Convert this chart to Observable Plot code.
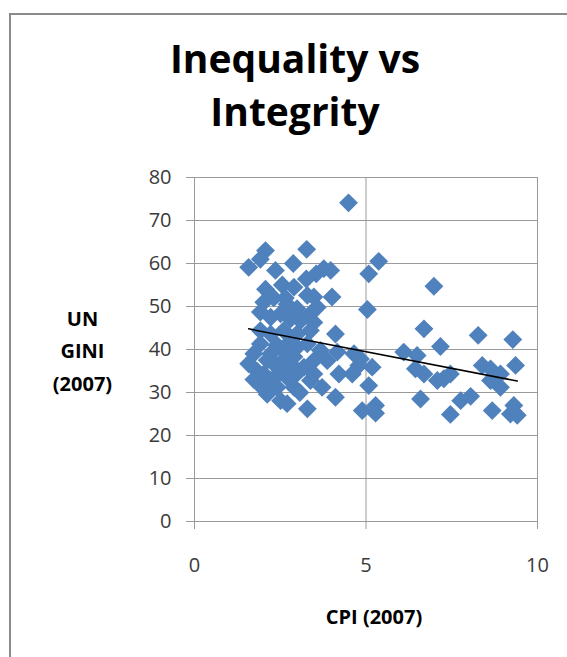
<!DOCTYPE html>
<html>
<head>
<meta charset="utf-8">
<script src="https://cdn.jsdelivr.net/npm/d3@7"></script>
<script src="https://cdn.jsdelivr.net/npm/@observablehq/plot@0.6"></script>
<style>
  html, body { margin: 0; padding: 0; background: #fff; }
  #wrap { position: relative; width: 567px; height: 657px; overflow: hidden; background: #fff; font-family: "Open Sans", sans-serif; }
  #frame { position: absolute; left: 9px; top: 13px; width: 700px; height: 800px; border-left: 2px solid #8a8a8a; border-top: 2px solid #8a8a8a; }
  #title { position: absolute; left: 0; top: 31px; width: 590px; text-align: center; font-weight: 700; font-size: 39px; line-height: 53px; color: #000; }
  #ylab { position: absolute; left: 32px; top: 302.5px; width: 101px; text-align: center; font-weight: 700; font-size: 20px; line-height: 32.5px; color: #000; }
  #xlab { position: absolute; left: 274px; top: 602px; width: 200px; text-align: center; font-weight: 700; font-size: 20px; line-height: 30px; color: #000; }
  #chart { position: absolute; left: 0; top: 0; }
</style>
</head>
<body>
<div id="wrap">
  <div id="frame"></div>
  <div id="chart"></div>
  <div id="title">Inequality vs<br>Integrity</div>
  <div id="ylab">UN<br>GINI<br>(2007)</div>
  <div id="xlab">CPI (2007)</div>
</div>
<script>
// CPI 2007 (x) and UN GINI 2007 (y)
const cpi = [
  1.58, 2.07, 1.92, 3.27, 2.36, 2.88, 3.77, 3.55, 3.26, 2.07, 2.56, 2.90, 3.29, 3.48, 2.02, 2.31, 2.65, 2.70, 3.58, 1.92,
  2.99, 3.38, 2.22, 2.51, 2.80, 3.09, 3.48, 1.92, 2.22, 2.60, 2.99, 3.38, 1.92, 2.41, 2.80, 3.29, 1.73, 2.22, 2.60, 2.99,
  3.67, 1.58, 1.82, 2.31, 2.80, 3.19, 3.48, 3.87, 2.02, 2.51, 3.48, 1.83, 2.22, 2.70, 3.38, 1.97, 2.41, 2.90, 3.72, 2.12,
  2.51, 2.70, 3.29, 3.07, 3.97, 4.01, 2.12, 2.41, 2.65, 1.73, 3.00, 2.90,
  4.49, 5.37, 5.08, 5.04, 4.11, 4.16, 4.65, 4.84, 4.79, 5.18, 4.21, 4.60, 5.08, 4.11, 4.89, 5.28, 5.28,
  6.98, 6.69, 8.27, 9.28, 7.17, 6.10, 6.49, 6.44, 6.69, 7.08, 7.27, 7.46, 8.39, 8.63, 8.92, 8.63, 8.92, 9.36, 6.59, 7.76,
  8.05, 7.46, 8.68, 9.31, 9.21, 9.41
];
const gini = [
  59.1, 63.0, 61.0, 63.3, 58.4, 60.0, 58.8, 57.6, 56.4, 54.0, 55.0, 54.5, 52.6, 52.2, 51.0, 52.0, 52.0, 50.5, 49.8, 48.7,
  49.5, 48.3, 47.5, 48.3, 47.1, 46.7, 46.3, 44.4, 43.6, 44.4, 43.6, 44.4, 41.3, 41.0, 42.0, 41.3, 39.0, 39.0, 39.8, 40.5,
  39.8, 36.7, 35.0, 36.7, 36.7, 35.9, 37.4, 37.4, 34.3, 35.1, 34.3, 33.6, 32.8, 33.5, 32.8, 31.2, 31.2, 31.2, 31.2, 29.6,
  28.1, 27.4, 26.2, 30.0, 58.4, 52.2, 37.5, 34.0, 38.0, 33.0, 34.5, 38.3,
  74.1, 60.5, 57.6, 49.3, 43.6, 39.4, 39.0, 37.8, 36.3, 35.9, 34.3, 34.3, 31.6, 28.9, 25.8, 27.0, 25.2,
  54.7, 44.8, 43.3, 42.3, 40.7, 39.4, 38.6, 35.5, 34.3, 32.8, 33.2, 34.3, 36.3, 35.5, 34.3, 32.8, 31.2, 36.3, 28.5, 28.1,
  29.1, 24.9, 25.8, 27.0, 25.0, 24.7
];
const xTicks = [0, 5, 10];
const yTicks = [0, 10, 20, 30, 40, 50, 60, 70, 80];

const data = cpi.map((c, i) => ({cpi: c, gini: gini[i]}));

const chart = Plot.plot({
  width: 567,
  height: 657,
  marginLeft: 194,
  marginRight: 30,
  marginTop: 177,
  marginBottom: 136,
  style: {fontFamily: "'Open Sans', sans-serif", fontSize: "20px", background: "transparent", overflow: "visible"},
  x: {domain: [0, 10], label: null},
  y: {domain: [0, 80], label: null},
  marks: [
    Plot.gridY(yTicks, {stroke: "#9a9a9a", strokeOpacity: 1, strokeWidth: 1}),
    Plot.gridX(xTicks, {stroke: "#9a9a9a", strokeOpacity: 1, strokeWidth: 1}),
    Plot.axisY(yTicks, {tickSize: 8, tickPadding: 15, stroke: "#9a9a9a", fill: "#3a3a3a", label: null, fontSize: 20}),
    Plot.axisX(xTicks, {tickSize: 8, tickPadding: 28, stroke: "#9a9a9a", fill: "#3a3a3a", label: null, fontSize: 20}),
    Plot.dot(data, {x: "cpi", y: "gini", symbol: "diamond2", r: 8.5, fill: "#4F81BD", stroke: "none"}),
    Plot.linearRegressionY(data, {x: "cpi", y: "gini", stroke: "#000", strokeWidth: 1.5, ci: 0})
  ]
});
document.getElementById("chart").appendChild(chart);
</script>
</body>
</html>
